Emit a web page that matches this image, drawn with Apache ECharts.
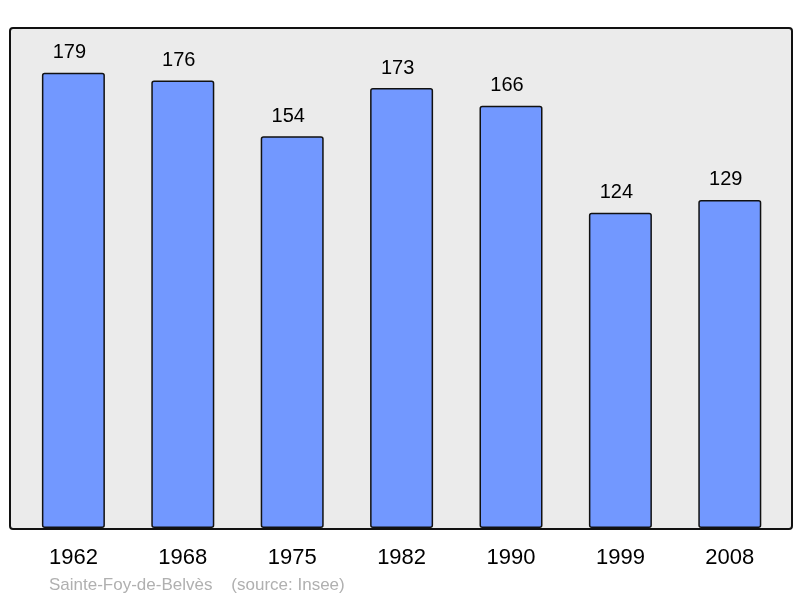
<!DOCTYPE html>
<html>
<head>
<meta charset="utf-8">
<script src="https://cdn.jsdelivr.net/npm/echarts@6/dist/echarts.min.js"></script>
<style>html,body{margin:0;padding:0;background:#fff;}#c{width:800px;height:598px;}</style>
</head>
<body>
<div id="c"></div>
<script>
var years = ['1962', '1968', '1975', '1982', '1990', '1999', '2008'];
var population = [179, 176, 154, 173, 166, 124, 129];
var caption = 'Sainte-Foy-de-Belvès    (source: Insee)';

var chart = echarts.init(document.getElementById('c'), null, {renderer: 'canvas'});
chart.setOption({
  animation: false,
  backgroundColor: '#ffffff',
  graphic: [{
    type: 'rect', left: 9, top: 27, z: -10,
    shape: {width: 782, height: 501, r: 3},
    style: {fill: '#ebebeb', stroke: '#111', lineWidth: 2}
  }],
  title: {
    text: caption, left: 44, top: 572,
    textStyle: {color: '#b0b0b0', fontSize: 17, fontWeight: 'normal', fontFamily: 'Liberation Sans'}
  },
  grid: {left: 18.7, width: 765.8, top: 27, bottom: 70},
  xAxis: {
    type: 'category', data: years,
    axisLine: {show: false}, axisTick: {show: false},
    axisLabel: {color: '#000', fontSize: 22, margin: 19, fontFamily: 'Liberation Sans'}
  },
  yAxis: {
    type: 'value', min: 0, max: 197,
    show: false, splitLine: {show: false}
  },
  series: [{
    type: 'bar', data: population, barWidth: 63,
    itemStyle: {color: '#7298ff', borderColor: '#111', borderWidth: 1.5, borderRadius: 2},
    label: {show: true, position: 'top', distance: 10, offset: [-4, 0], color: '#000', fontSize: 20, fontFamily: 'Liberation Sans'}
  }]
});
</script>
</body>
</html>
